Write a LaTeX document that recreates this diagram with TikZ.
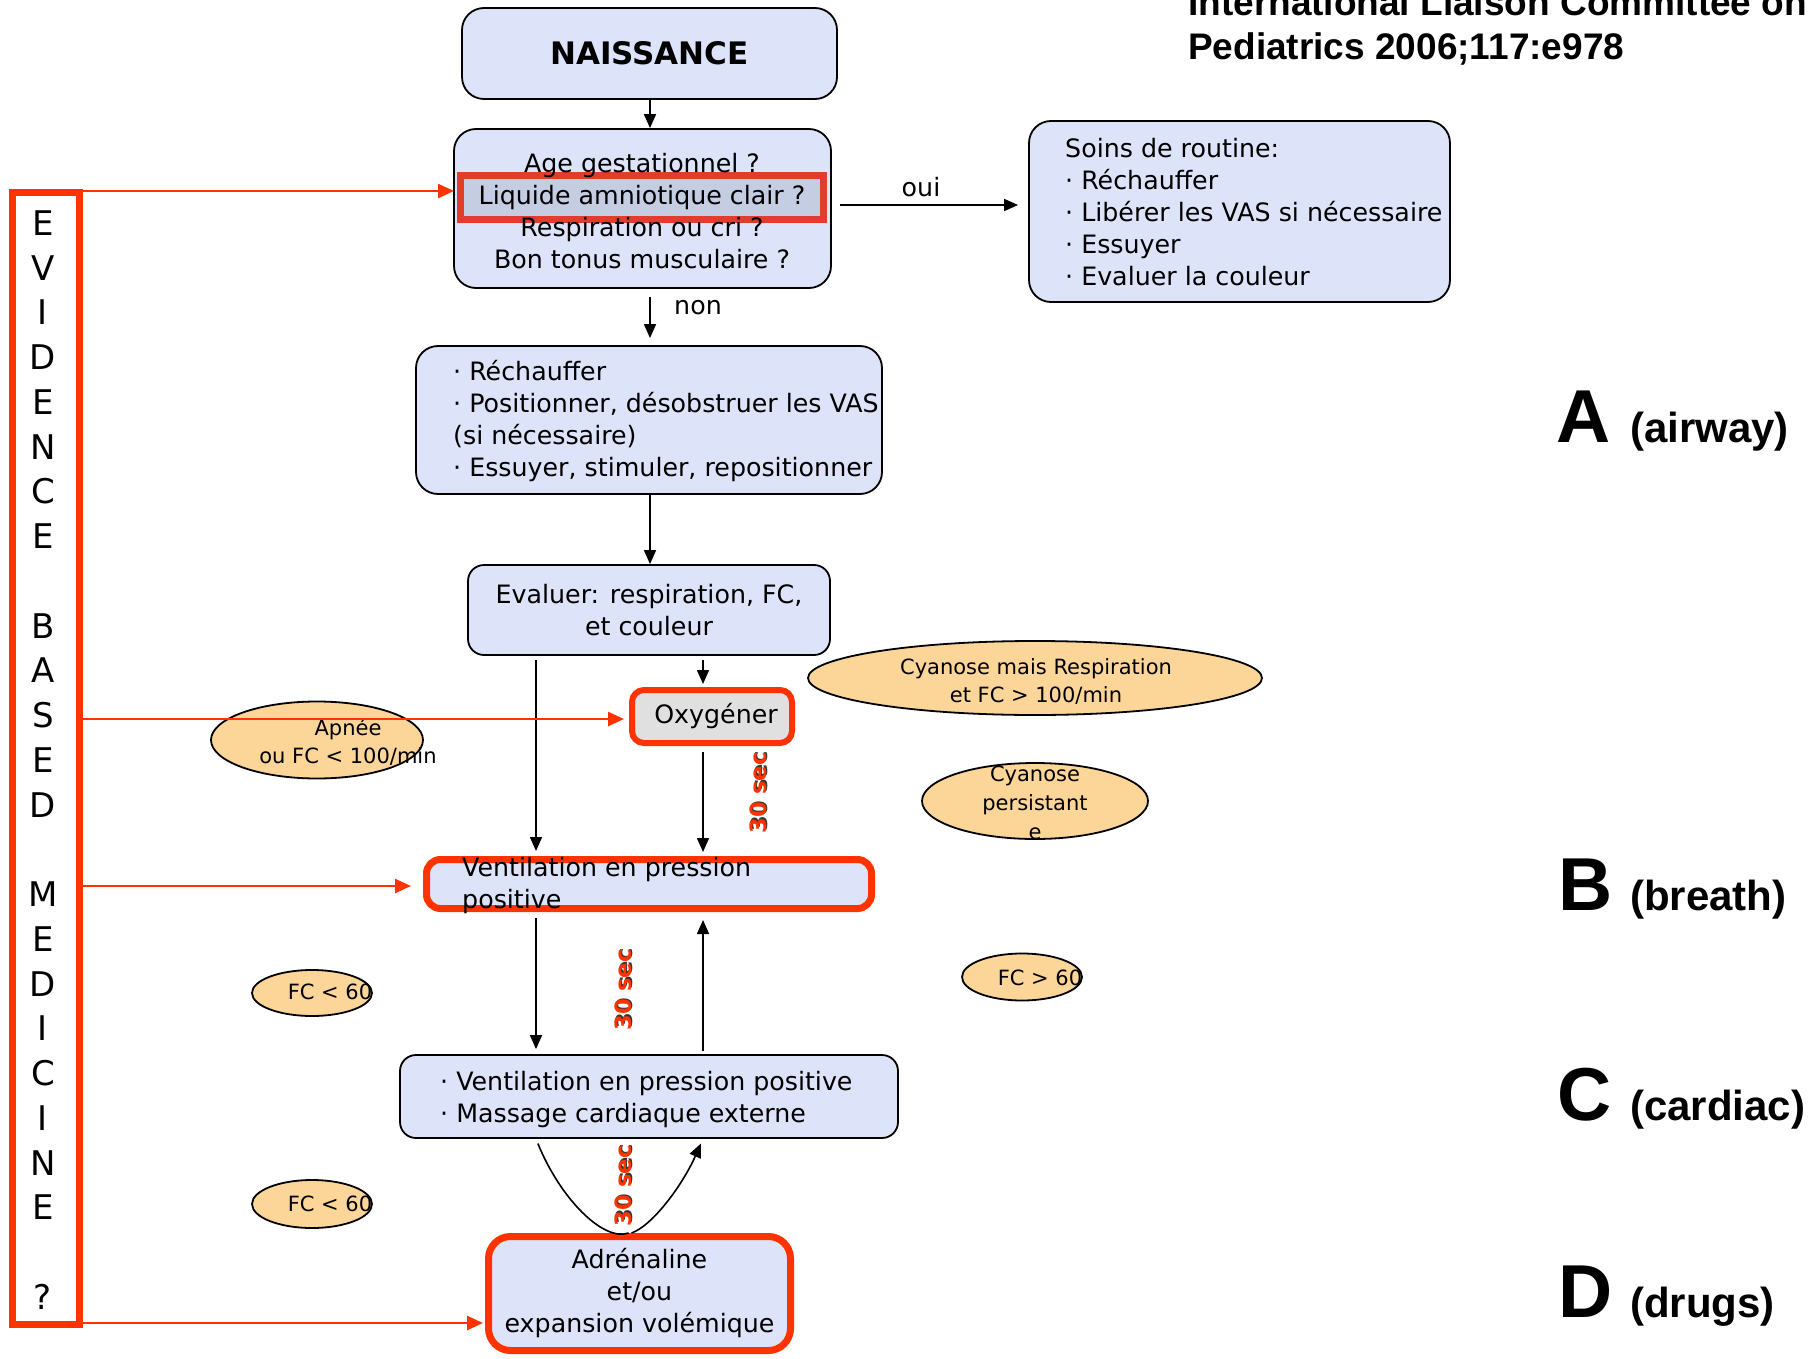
\documentclass[tikz,border=0pt]{standalone}
\usepackage{fontspec}
\setmainfont{DejaVu Sans}
\newfontfamily\headfont{Liberation Sans}
\usetikzlibrary{arrows.meta,shapes.geometric}
\pgfdeclarelayer{bg}
\pgfsetlayers{bg,main}

\definecolor{boxblue}{RGB}{221,228,250}
\definecolor{hlblue}{RGB}{197,205,227}
\definecolor{peach}{RGB}{252,213,153}
\definecolor{ebmred}{RGB}{255,51,0}
\definecolor{hlred}{RGB}{225,60,45}
\definecolor{oxgray}{RGB}{224,224,224}

\newcommand\bodyfont{\fontsize{25.3pt}{32pt}\selectfont}
\newcommand\ovalfont{\fontsize{21pt}{28pt}\selectfont}
\newcommand\bul{·\ }
\newcommand\shadowed[1]{\leavevmode\rlap{\kern1.6pt\raisebox{-1.6pt}{\textcolor{black!80}{#1}}}\textcolor{ebmred}{#1}}

\begin{document}
\begin{tikzpicture}[x=1pt,y=-1pt,
  bodytext/.style={inner sep=0pt,font=\bodyfont},
  ovaltext/.style={inner sep=0pt,font=\ovalfont},
  headtext/.style={inner sep=0pt,font=\headfont\bfseries\fontsize{37pt}{44pt}\selectfont},
  bigletter/.style={inner sep=0pt,font=\headfont\bfseries\fontsize{75pt}{80pt}\selectfont},
  abcdtext/.style={inner sep=0pt,font=\headfont\bfseries\fontsize{42pt}{48pt}\selectfont},
  bluebox/.style={draw=black,line width=1.8pt,fill=boxblue,rounded corners=22pt,inner sep=0pt,font=\bodyfont},
  hlbox/.style={draw=hlred,line width=7pt,fill=hlblue,inner sep=0pt},
  redbox/.style={draw=ebmred,line width=7pt,fill=boxblue,rounded corners=14pt,inner sep=0pt,font=\bodyfont},
  oxbox/.style={draw=ebmred,line width=6pt,fill=oxgray,rounded corners=12pt,inner sep=0pt,font=\bodyfont},
  ebmbox/.style={draw=ebmred,line width=7pt,fill=white,inner sep=0pt},
  oval/.style={ellipse,draw=black,line width=1.8pt,fill=peach,inner sep=0pt},
  sectext/.style={inner sep=0pt,font=\bfseries\fontsize{22.5pt}{26pt}\selectfont,rotate=90},
  arr/.style={-{Triangle[length=14pt,width=12pt]},line width=1.6pt,draw=black},
  redarr/.style={-{Triangle[length=16pt,width=14pt]},line width=2.5pt,draw=ebmred}]

% page and the boxes whose text sits over a highlight
\begin{pgfonlayer}{bg}
  \fill[white] (0,0) rectangle (1815,1359);
  \node[bluebox,minimum width=377pt,minimum height=159pt] (quest) at (642.5,208.5) {};
  \node[hlbox,minimum width=363pt,minimum height=44pt] (liq) at (642,197.5) {};
\end{pgfonlayer}
\useasboundingbox (0,0) rectangle (1815,1359);

% reference in the upper right corner
\node[headtext,anchor=base west] (ref1) at (1188,16) {International Liaison Committee on};
\node[headtext,anchor=base west] (ref2) at (1188,60) {Pediatrics 2006;117:e978};

% main flow
\node[bluebox,minimum width=375pt,minimum height=91pt,font=\bfseries\fontsize{31pt}{36pt}\selectfont] (naiss) at (649.5,53.5) {NAISSANCE};

\node[bodytext,align=center] (questText) at (642,211)
  {Age gestationnel ?\\Liquide amniotique clair ?\\Respiration ou cri ?\\Bon tonus musculaire ?};

\node[bluebox,minimum width=421pt,minimum height=181pt] (soins) at (1239.5,211.5) {};
\node[bodytext,align=left,anchor=west] (soinsText) at (1065,212)
  {Soins de routine:\\\bul Réchauffer\\\bul Libérer les VAS si nécessaire\\\bul Essuyer\\\bul Evaluer la couleur};

\node[bluebox,minimum width=466pt,minimum height=148pt] (rech) at (649,420) {};
\node[bodytext,align=left,anchor=west] (rechText) at (453,421)
  {\bul Réchauffer\\\bul Positionner, désobstruer les VAS\\(si nécessaire)\\\bul Essuyer, stimuler, repositionner};

\node[bluebox,rounded corners=16pt,minimum width=362pt,minimum height=90pt,align=center] (eval) at (649,610)
  {Evaluer: respiration, FC,\\et couleur};

\node[oxbox,minimum width=160pt,minimum height=53pt] (oxy) at (712,716.5) {\hspace*{8pt}Oxygéner};

\node[redbox,minimum width=445pt,minimum height=49pt] (vent) at (649,884) {};
\node[bodytext,align=left,anchor=west] (ventText) at (462,886) {Ventilation en pression\\positive};

\node[bluebox,rounded corners=16pt,minimum width=498pt,minimum height=83pt] (vpp) at (649,1096.5) {};
\node[bodytext,align=left,anchor=west] (vppText) at (440,1100)
  {\bul Ventilation en pression positive\\\bul Massage cardiaque externe};

\node[redbox,rounded corners=22pt,minimum width=302pt,minimum height=114pt,align=center] (adr) at (639.5,1293.5)
  {Adrénaline\\et/ou\\expansion volémique};

% conditions
\node[oval,minimum width=454pt,minimum height=74pt] (cyan1) at (1035,678) {};
\node[ovaltext,align=center] (cyan1Text) at (1036,681) {Cyanose mais Respiration\\et FC > 100/min};
\node[oval,minimum width=226pt,minimum height=76pt] (cyan2) at (1035,801) {};
\node[ovaltext,align=center,font=\fontsize{21pt}{29pt}\selectfont] (cyan2Text) at (1035,803) {Cyanose\\persistant\\e};
\node[oval,minimum width=212pt,minimum height=77pt] (apnee) at (317,740) {};
\node[ovaltext,align=center] (apneeText) at (348,742) {Apnée\\ou FC < 100/min};
\node[oval,minimum width=120pt,minimum height=47pt] (fcgt) at (1022,977) {};
\node[ovaltext] (fcgtText) at (1040,978) {FC > 60};
\node[oval,minimum width=120pt,minimum height=46pt] (fclt1) at (312,993) {};
\node[ovaltext] (fclt1Text) at (330,992) {FC < 60};
\node[oval,minimum width=120pt,minimum height=48pt] (fclt2) at (312,1204) {};
\node[ovaltext] (fclt2Text) at (330,1204) {FC < 60};

% timing marks
\node[sectext] (sec1) at (759,793) {\shadowed{30 sec}};
\node[sectext] (sec2) at (624,990) {\shadowed{30 sec}};
\node[sectext] (sec3) at (624,1186) {\shadowed{30 sec}};

% evidence based medicine column
\node[ebmbox,minimum width=67pt,minimum height=1132pt] (ebm) at (46,758.5) {};
\node[inner sep=0pt,align=center,font=\fontsize{34pt}{44.75pt}\selectfont] (ebmText) at (43,760)
  {E\\V\\I\\D\\E\\N\\C\\E\\\mbox{}\\B\\A\\S\\E\\D\\\mbox{}\\M\\E\\D\\I\\C\\I\\N\\E\\\mbox{}\\?};

% A B C D
\node[bigletter,anchor=base west] (aL) at (1556,442) {A};
\node[abcdtext,anchor=base west] (aT) at (1630,442) {(airway)};
\node[bigletter,anchor=base west] (bL) at (1558,910) {B};
\node[abcdtext,anchor=base west] (bT) at (1630,910) {(breath)};
\node[bigletter,anchor=base west] (cL) at (1557,1120) {C};
\node[abcdtext,anchor=base west] (cT) at (1630,1120) {(cardiac)};
\node[bigletter,anchor=base west] (dL) at (1558,1317) {D};
\node[abcdtext,anchor=base west] (dT) at (1630,1317) {(drugs)};

% connectors
\coordinate (colM) at (650,0);
\coordinate (colL) at (536,0);
\coordinate (colR) at (703,0);
\coordinate (ouiY) at (0,205);

\draw[arr] (naiss.south -| colM) -- (quest.north -| colM);
\draw[arr,shorten <=8pt,shorten >=10pt] (quest.east |- ouiY) -- (soins.west |- ouiY);
\node[bodytext] (ouiL) at (921,187) {oui};
\draw[arr,shorten <=8pt,shorten >=7pt] (quest.south -| colM) -- (rech.north -| colM);
\node[bodytext] (nonL) at (698,308) {non};
\draw[arr] (rech.south -| colM) -- (eval.north -| colM);
\draw[arr,shorten <=4pt,shorten >=5pt] (eval.south -| colL) -- (vent.north -| colL);
\draw[arr,shorten <=4pt,shorten >=3pt] (eval.south -| colR) -- (oxy.north -| colR);
\draw[arr,shorten <=6pt,shorten >=4pt] (oxy.south -| colR) -- (vent.north -| colR);
\draw[arr,shorten <=6pt,shorten >=5pt] (vent.south -| colL) -- (vpp.north -| colL);
\draw[arr,shorten <=3pt,shorten >=8pt] (vpp.north -| colR) -- (vent.south -| colR);
\draw[line width=1.6pt,shorten <=5pt] (vpp.south -| colL) .. controls (560,1198) and (603,1242) .. ([xshift=-11pt]adr.north);
\draw[arr,shorten >=5pt] ([xshift=-8pt]adr.north) .. controls (652,1226) and (682,1186) .. (vpp.south -| colR);

% links from the evidence column
\coordinate (r1) at (0,191);
\coordinate (r2) at (0,719);
\coordinate (r3) at (0,886);
\coordinate (r4) at (0,1323);
\draw[redarr,shorten >=3pt] (ebm.east |- r1) -- (liq.west |- r1);
\draw[redarr,shorten >=5pt] (ebm.east |- r2) -- (oxy.west |- r2);
\draw[redarr,shorten >=12pt] (ebm.east |- r3) -- (vent.west |- r3);
\draw[redarr,shorten >=2pt] (ebm.east |- r4) -- (adr.west |- r4);
\end{tikzpicture}
\end{document}
